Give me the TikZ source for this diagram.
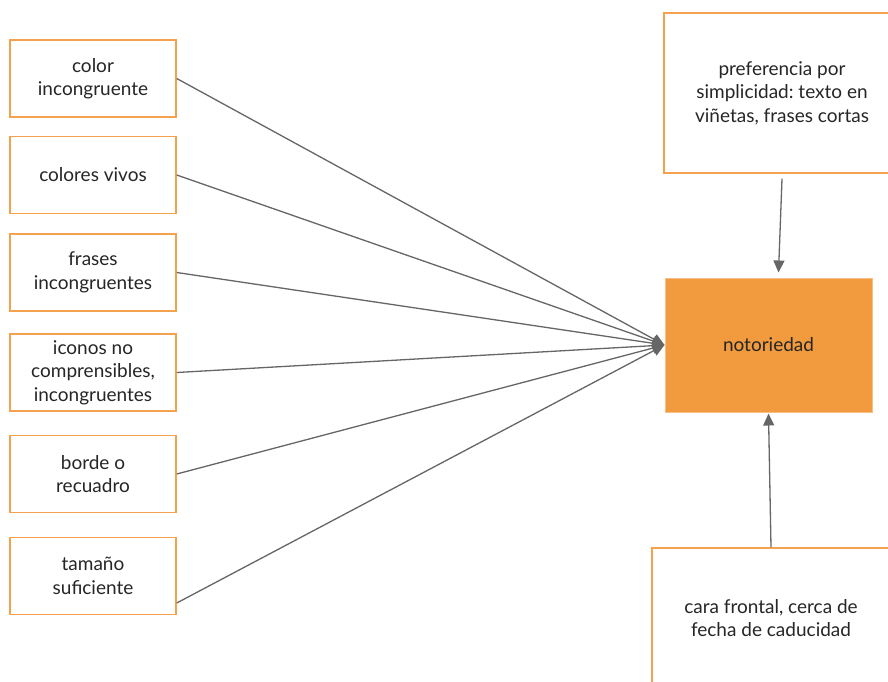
\documentclass[tikz,border=0pt]{standalone}
\usepackage{fontspec}
\setmainfont{Lato}
\frenchspacing
\usetikzlibrary{arrows.meta}
\definecolor{boxedge}{HTML}{F5A24F}
\definecolor{boxfill}{HTML}{F19A3E}
\definecolor{ink}{HTML}{262626}
\definecolor{wire}{HTML}{666666}
\tikzset{
  factor/.style={draw=boxedge, line width=1.5pt, fill=white, text=ink,
    minimum width=166pt, minimum height=77pt, align=center,
    inner sep=0pt, font={\fontsize{19}{23.5}\selectfont}},
  target/.style={draw=boxedge!70!white, line width=1pt, fill=boxfill, text=ink,
    minimum width=207pt, minimum height=134pt, align=center,
    inner sep=0pt, font={\fontsize{19}{23.5}\selectfont}},
  link/.style={draw=wire, line width=1.3pt,
    -{Triangle[length=12pt,width=11pt]}}
}
\begin{document}
\begin{tikzpicture}[x=1pt,y=-1pt]
\useasboundingbox (0,0) rectangle (888,682);
\clip (0,0) rectangle (888,682);
\fill[white] (0,0) rectangle (888,682);

% left-hand factors
\node[factor] (b1) at (93,78.5) {color\\incongruente};
\node[factor] (b2) at (93,175) {colores vivos};
\node[factor] (b3) at (93,272.5) {frases\\incongruentes};
\node[factor] (b4) at (93,372.5) {iconos no\\comprensibles,\\incongruentes};
\node[factor] (b5) at (93,474) {borde o\\recuadro};
\node[factor] (b6) at (93,576) {tamaño\\suficiente};

% central concept
\node[target] (n) at (768.5,345) {notoriedad};

% right-hand factors
\node[factor, minimum width=236pt, minimum height=160pt] (t) at (782,93)
  {preferencia por\\simplicidad: texto en\\viñetas, frases cortas};
\node[factor, minimum width=238pt, minimum height=140pt] (c) at (771,618)
  {cara frontal, cerca de\\fecha de caducidad};

% connectors
\foreach \b in {b1,b2,b3,b4,b5}
  \draw[link] (\b.east) -- (n.west);
\draw[link] ([yshift=-27pt]b6.east) -- (n.west);
\draw[link] ([yshift=-5pt]t.south) -- ([xshift=10pt,yshift=5pt]n.north);
\draw[link] (c.north) -- ([yshift=-1pt]n.south);
\end{tikzpicture}
\end{document}
